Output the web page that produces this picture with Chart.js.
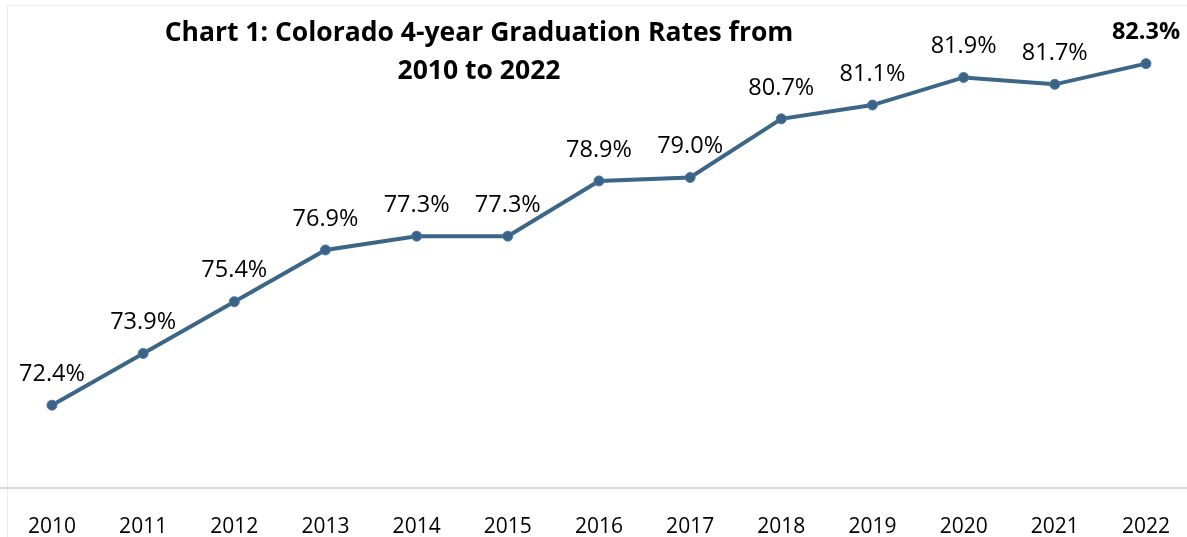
<!DOCTYPE html>
<html>
<head>
<meta charset="utf-8">
<script src="https://cdn.jsdelivr.net/npm/chart.js@4.4.1/dist/chart.umd.min.js"></script>
<style>
  html, body { margin: 0; padding: 0; background: #fff; overflow: hidden; }
  #wrap { position: relative; width: 1187px; height: 537px; overflow: hidden; }
  #frame { position: absolute; left: 7px; top: 5px; width: 1190px; height: 540px;
           border-left: 1px solid #ececec; border-top: 1px solid #ececec; }
  #title { position: absolute; left: 129px; width: 700px; top: 12px; text-align: center;
           font: bold 26.5px "Open Sans", sans-serif; line-height: 38px; color: #000; }
  canvas { position: absolute; left: 0; top: 0; }
</style>
</head>
<body>
<div id="wrap">
  <div id="frame"></div>
  <canvas id="gradChart" width="1187" height="537"></canvas>
  <div id="title">Chart 1: Colorado 4-year Graduation Rates from<br>2010 to 2022</div>
</div>
<script>
const years = [2010, 2011, 2012, 2013, 2014, 2015, 2016, 2017, 2018, 2019, 2020, 2021, 2022];
const gradRates = [72.4, 73.9, 75.4, 76.9, 77.3, 77.3, 78.9, 79.0, 80.7, 81.1, 81.9, 81.7, 82.3];
const yMin = 70;
const yMax = 84;
// x range: half a category before the first year, cut at the right edge
const xMin = 2009.43;
const xMax = 2022.45;

const pointLabels = {
  id: "pointLabels",
  afterDatasetsDraw(chart) {
    const ctx = chart.ctx;
    const meta = chart.getDatasetMeta(0);
    ctx.save();
    ctx.fillStyle = "#000";
    ctx.textAlign = "center";
    ctx.textBaseline = "middle";
    meta.data.forEach((pt, i) => {
      const last = i === meta.data.length - 1;
      ctx.font = (last ? "bold " : "") + "23.5px 'Open Sans', sans-serif";
      ctx.fillText(gradRates[i].toFixed(1) + "%", pt.x, pt.y - 31);
    });
    ctx.restore();
  }
};

new Chart(document.getElementById("gradChart").getContext("2d"), {
  type: "line",
  data: {
    datasets: [{
      data: years.map((yr, i) => ({ x: yr, y: gradRates[i] })),
      borderColor: "#3b6686",
      borderWidth: 4,
      backgroundColor: "#3b6686",
      pointBackgroundColor: "#3a6482",
      pointBorderColor: "#4a74b8",
      pointBorderWidth: 1,
      pointRadius: 5,
      tension: 0
    }]
  },
  options: {
    responsive: false,
    animation: false,
    layout: { autoPadding: false, padding: { left: 0, top: 5, right: 0, bottom: 0 } },
    plugins: { legend: { display: false }, tooltip: { enabled: false } },
    scales: {
      y: { display: false, min: yMin, max: yMax },
      x: {
        type: "linear",
        min: xMin,
        max: xMax,
        afterBuildTicks: (scale) => { scale.ticks = years.map((v) => ({ value: v })); },
        afterFit: (scale) => { scale.height = 49; scale.paddingLeft = 0; scale.paddingRight = 0; },
        grid: { display: false, drawTicks: false, tickLength: 0 },
        border: { display: true, color: "#d9d9d9", width: 2 },
        ticks: {
          color: "#000",
          padding: 27,
          maxRotation: 0,
          autoSkip: false,
          callback: (v) => String(v),
          font: { family: "'Open Sans', sans-serif", size: 21, lineHeight: 1.1 }
        }
      }
    }
  },
  plugins: [pointLabels]
});
</script>
</body>
</html>
